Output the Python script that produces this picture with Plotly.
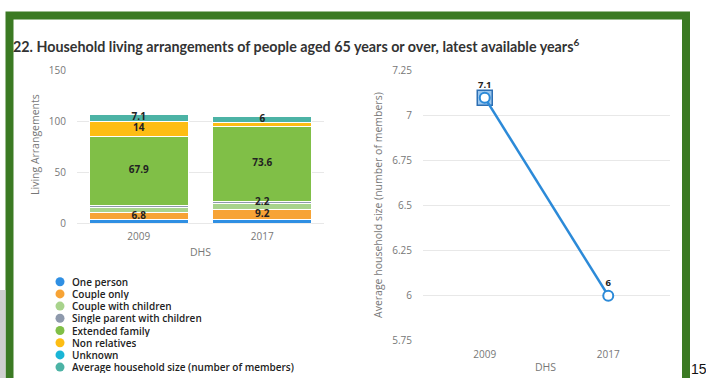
import plotly.graph_objects as go

W, H = 706, 378


def px(x):
    return x / W


def py(y):
    return 1 - y / H


# ---------------- data ----------------
years = ["2009", "2017"]
series_names = [
    "One person",
    "Couple only",
    "Couple with children",
    "Single parent with children",
    "Extended family",
    "Non relatives",
    "Unknown",
    "Average household size (number of members)",
]
one_person = [3.6, 4.0]
couple_only = [6.8, 9.2]
couple_with_children = [4.8, 6.4]
single_parent = [2.6, 2.2]
extended_family = [67.9, 73.6]
non_relatives = [14.0, 3.4]
unknown = [0.3, 0.6]
avg_household_size = [7.1, 6.0]

# which data labels are visible in the original chart
labels_visible = {
    "Couple only": [True, True],
    "Single parent with children": [False, True],
    "Extended family": [True, True],
    "Non relatives": [True, False],
    "Average household size (number of members)": [True, True],
}

colors = {
    "One person": "#2f8fe3",
    "Couple only": "#f7a335",
    "Couple with children": "#a8d38c",
    "Single parent with children": "#8e99ac",
    "Extended family": "#80bf47",
    "Non relatives": "#fdbd14",
    "Unknown": "#1ab5d6",
    "Average household size (number of members)": "#4cb3a5",
}

values = [
    one_person,
    couple_only,
    couple_with_children,
    single_parent,
    extended_family,
    non_relatives,
    unknown,
    avg_household_size,
]

FONT = "Open Sans, DejaVu Sans, sans-serif"
label_font = dict(family=FONT, size=10, color="#222222", weight="bold")

fig = go.Figure()

for name, vals in zip(series_names, values):
    fig.add_trace(
        go.Bar(
            x=years,
            y=vals,
            name=name,
            marker=dict(color=colors[name], line=dict(color="white", width=1)),
            showlegend=False,
            xaxis="x",
            yaxis="y",
        )
    )

# data labels drawn on top of all bar segments (centre of each stacked segment)
base = [0.0 for _ in years]
for name, vals in zip(series_names, values):
    vis = labels_visible.get(name, [False, False])
    lx, ly, lt = [], [], []
    for i, (v, s) in enumerate(zip(vals, vis)):
        if s:
            lx.append(years[i])
            ly.append(base[i] + v / 2)
            lt.append(f"{v:g}")
        base[i] += v
    if lx:
        fig.add_trace(
            go.Scatter(
                x=lx, y=ly, text=lt, mode="text",
                textposition="middle center",
                textfont=label_font,
                showlegend=False, hoverinfo="skip",
                xaxis="x", yaxis="y",
            )
        )

# right chart: line
line_color = "#2c8ad8"
fig.add_trace(
    go.Scatter(
        x=years[:1],
        y=avg_household_size[:1],
        mode="markers",
        marker=dict(symbol="square", size=15, color="#9cc7ee",
                    line=dict(color="#2d6fb3", width=1.5)),
        showlegend=False,
        hoverinfo="skip",
        xaxis="x2",
        yaxis="y2",
    )
)
fig.add_trace(
    go.Scatter(
        x=years,
        y=avg_household_size,
        mode="lines+markers+text",
        line=dict(color=line_color, width=2.5),
        marker=dict(symbol="circle", size=10, color="white",
                    line=dict(color=line_color, width=2)),
        text=[f"{v:g}" for v in avg_household_size],
        textposition="top center",
        textfont=dict(family=FONT, size=9.5, color="#222222", weight="bold"),
        showlegend=False,
        xaxis="x2",
        yaxis="y2",
    )
)

tickfont = dict(family=FONT, size=10, color="#777777")
grid = "#e8e8e8"

fig.update_layout(
    width=W,
    height=H,
    margin=dict(l=0, r=0, t=0, b=0, autoexpand=False),
    paper_bgcolor="white",
    plot_bgcolor="rgba(0,0,0,0)",
    barmode="stack",
    bargap=0.2,
    font=dict(family=FONT),
    xaxis=dict(
        domain=[px(77), px(324)],
        anchor="y",
        range=[-0.5, 1.5],
        showgrid=False,
        showline=False,
        automargin=False,
        tickfont=tickfont,
        ticklabelstandoff=6,
    ),
    yaxis=dict(
        domain=[py(223.3), py(70.7)],
        anchor="x",
        range=[0, 150],
        dtick=50,
        showgrid=True,
        gridcolor=grid,
        zeroline=True,
        zerolinecolor=grid,
        zerolinewidth=1,
        automargin=False,
        tickfont=tickfont,
        ticklabelstandoff=10,
    ),
    xaxis2=dict(
        domain=[px(423), px(670)],
        anchor="y2",
        range=[-0.5, 1.5],
        showgrid=False,
        showline=False,
        automargin=False,
        tickfont=tickfont,
        ticklabelstandoff=6,
    ),
    yaxis2=dict(
        domain=[py(340.7), py(70.7)],
        anchor="x2",
        range=[5.75, 7.25],
        dtick=0.25,
        showgrid=True,
        gridcolor=grid,
        zeroline=False,
        automargin=False,
        tickfont=tickfont,
        ticklabelstandoff=10,
    ),
)

ann = []
axis_title_font = dict(family=FONT, size=10.5, color="#777777")
ann.append(dict(x=px(35), y=py(145), text="Living Arrangements", textangle=-90,
                showarrow=False, xref="paper", yref="paper", font=axis_title_font,
                xanchor="center", yanchor="middle"))
ann.append(dict(x=px(201), y=py(252), text="DHS", showarrow=False,
                xref="paper", yref="paper", font=axis_title_font,
                xanchor="center", yanchor="middle"))
ann.append(dict(x=px(378), y=py(205), text="Average household size (number of members)",
                textangle=-90, showarrow=False, xref="paper", yref="paper",
                font=axis_title_font, xanchor="center", yanchor="middle"))
ann.append(dict(x=px(545), y=py(366.5), text="DHS", showarrow=False,
                xref="paper", yref="paper", font=axis_title_font,
                xanchor="center", yanchor="middle"))

# title
ann.append(dict(
    x=px(11), y=py(46),
    text="<b>22. Household living arrangements of people aged 65 years or over, latest available years<sup>6</sup></b>",
    showarrow=False, xref="paper", yref="paper", xanchor="left", yanchor="middle",
    font=dict(family="Lato, Roboto, sans-serif", size=14.3, color="#333333"),
))

# page number
ann.append(dict(x=px(689), y=py(369), text="15", showarrow=False, xref="paper",
                yref="paper", xanchor="left", yanchor="middle",
                font=dict(family="Liberation Sans, Arial, sans-serif", size=14, color="#111111")))

shapes = []
# green frame
shapes.append(dict(type="rect", xref="paper", yref="paper",
                   x0=px(9.5), x1=px(686), y0=py(420), y1=py(15.5),
                   line=dict(color="#3b7a23", width=8), fillcolor="rgba(0,0,0,0)",
                   layer="below"))
# grey shadow at bottom-left outside frame
shapes.append(dict(type="rect", xref="paper", yref="paper",
                   x0=0, x1=px(5.5), y0=py(378), y1=py(290),
                   line=dict(width=0), fillcolor="#cfcfcf", layer="below"))

# custom legend (circles + labels)
legend_font = dict(family=FONT, size=10, color="#222222", weight=600)
for i, name in enumerate(series_names):
    yc = 281.7 + 12.2 * i
    shapes.append(dict(type="circle", xref="paper", yref="paper",
                       x0=px(55.5), x1=px(64.5), y0=py(yc + 4.5), y1=py(yc - 4.5),
                       fillcolor=colors[name], line=dict(width=0)))
    ann.append(dict(x=px(71), y=py(yc), text=name, showarrow=False,
                    xref="paper", yref="paper", xanchor="left", yanchor="middle",
                    height=12, valign="middle", borderpad=0,
                    font=legend_font))

fig.update_layout(annotations=ann, shapes=shapes)

fig.write_html(
    "out.html",
    config={"displayModeBar": False},
    post_script="document.body.style.margin='0';document.body.style.overflow='hidden';",
)
